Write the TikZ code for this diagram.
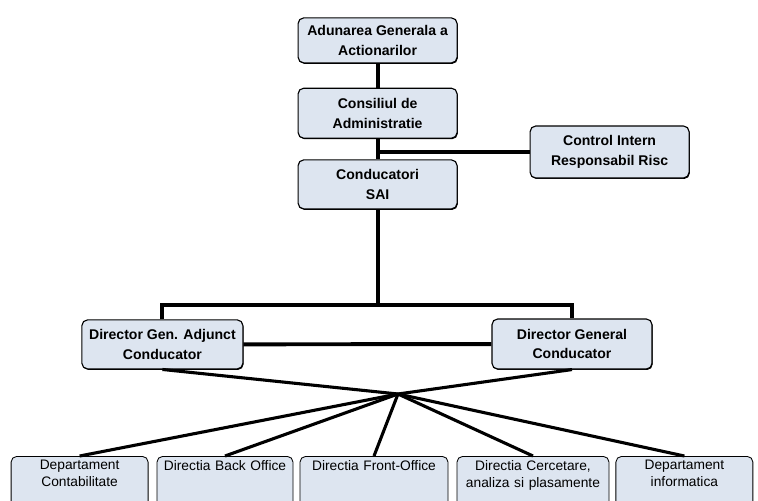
\documentclass[tikz,border=0pt]{standalone}
\usepackage{fontspec}
\setmainfont{Liberation Sans}
\usepackage{xcolor}
\usepackage{tikz}
\usetikzlibrary{positioning,shadows}
\definecolor{boxfill}{RGB}{221,229,240}

\begin{document}
\begin{tikzpicture}[
  orgbox/.style={draw, fill=boxfill, rounded corners=4pt, line width=0.8pt,
    align=center, minimum width=3.975cm, inner sep=0.1cm,
    font=\fontsize{10}{14}\selectfont\bfseries,
    drop shadow={shadow xshift=0.5pt, shadow yshift=-0.7pt, fill=black, opacity=1}},
  unitbox/.style={draw, fill=boxfill, rounded corners=4pt, line width=0.6pt,
    align=center, anchor=north, inner xsep=0.1cm, inner ysep=0.1cm,
    text depth=1cm, font=\fontsize{9.8}{12}\selectfont},
  link/.style={line width=2.8pt},
  thinlink/.style={line width=2.2pt}]
  \clip (0,0) rectangle (18.95,-12.525);

  % top of the chart
  \node[orgbox, minimum height=1.125cm] (adunare) at (9.44,-1.01) {Adunarea Generala a\\Actionarilor};
  \node[orgbox, minimum height=1.25cm] (consiliu) at (9.44,-2.83) {Consiliul de\\Administratie};
  \node[orgbox, minimum height=1.3cm] (control) at (15.24,-3.8) {Control Intern\\Responsabil Risc};
  \node[orgbox, minimum height=1.225cm] (conducatori) at (9.44,-4.61) {Conducatori\\SAI};

  % directors
  \node[orgbox, minimum width=4.025cm, minimum height=1.225cm] (adjunct) at (4.06,-8.61) {Director Gen. Adjunct\\Conducator};
  \node[orgbox, minimum width=4cm, minimum height=1.25cm] (general) at (14.3,-8.6) {Director General\\Conducator};

  % departments
  \node[unitbox, text width=3.225cm] (contab) at (1.99,-11.4) {Departament\\Contabilitate};
  \node[unitbox, text width=3.2cm] (back) at (5.625,-11.4) {Directia Back Office};
  \node[unitbox, text width=3.5cm] (front) at (9.35,-11.4) {Directia Front-Office};
  \node[unitbox, text width=3.6cm] (cercetare) at (13.325,-11.4) {Directia Cercetare,\\analiza si plasamente};
  \node[unitbox, text width=3.225cm] (informatica) at (17.11,-11.4) {Departament\\informatica};

  \coordinate (bar) at (0,-7.625);
  \coordinate (hub) at (9.95,-9.85);

  \draw[link] (adunare) -- (consiliu);
  \draw[link] (consiliu) -- (conducatori);
  \draw[link] (control.west) -- (control.west -| consiliu.south);
  \draw[link] (conducatori) -- (conducatori.south |- bar);
  \draw[link] (adjunct) -- (adjunct.north |- bar) -- (general.north |- bar) -- (general);
  \draw[link] (adjunct) -- (general);
  \draw[thinlink] (adjunct.south) -- (hub) -- (general.south);
  \foreach \n in {contab,back,front,cercetare,informatica}
    \draw[thinlink] (hub) -- (\n.north);
\end{tikzpicture}
\end{document}
